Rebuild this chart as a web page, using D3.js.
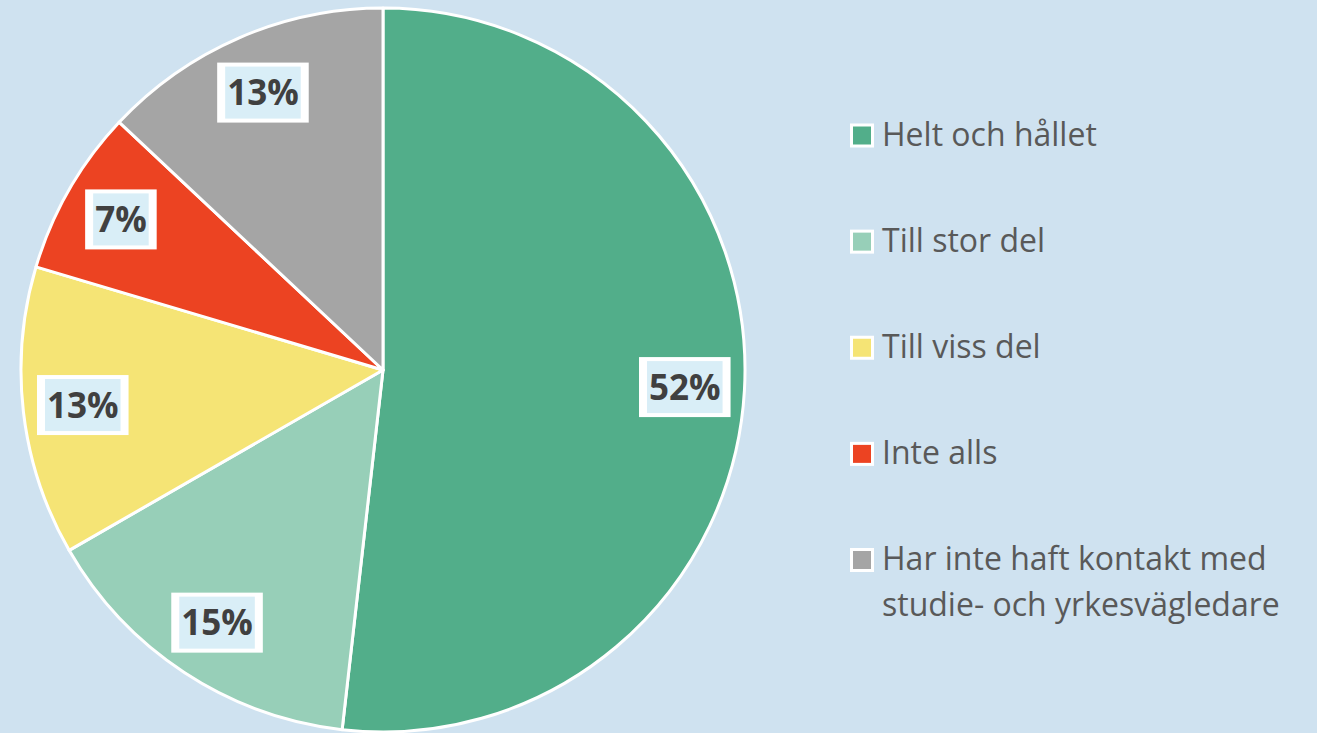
<!DOCTYPE html>
<html>
<head>
<meta charset="utf-8">
<script src="https://cdn.jsdelivr.net/npm/d3@7"></script>
<style>
  body { margin: 0; background: #CFE2F0; }
  svg { display: block; }
</style>
</head>
<body>
<script>
var width = 1317, height = 733;

// data
var categories = ["Helt och hållet", "Till stor del", "Till viss del", "Inte alls",
  "Har inte haft kontakt med studie- och yrkesvägledare"];
var values = [51.8, 14.9, 12.9, 7.4, 13.0];
var labels = ["52%", "15%", "13%", "7%", "13%"];
var legendLines = [["Helt och hållet"], ["Till stor del"], ["Till viss del"], ["Inte alls"],
  ["Har inte haft kontakt med", "studie- och yrkesvägledare"]];
var colors = ["#52AE8A", "#97CFB8", "#F5E475", "#EC4322", "#A5A5A5"];

var svg = d3.select("body").append("svg")
  .attr("width", width)
  .attr("height", height);

svg.append("rect")
  .attr("width", width)
  .attr("height", height)
  .attr("fill", "#CFE2F0");

var cx = 383, cy = 370, radius = 362;

var data = values.map(function(v, i) {
  return {name: categories[i], value: v, label: labels[i], color: colors[i]};
});

var pie = d3.pie()
  .sort(null)
  .value(function(d) { return d.value; });

var arc = d3.arc()
  .innerRadius(0)
  .outerRadius(radius);

var labelArc = d3.arc()
  .innerRadius(radius * 0.835)
  .outerRadius(radius * 0.835);

var g = svg.append("g")
  .attr("transform", "translate(" + cx + "," + cy + ")");

var arcs = pie(data);

g.selectAll("path.slice")
  .data(arcs)
  .enter().append("path")
    .attr("class", "slice")
    .attr("d", arc)
    .attr("fill", function(d) { return d.data.color; })
    .attr("stroke", "#fff")
    .attr("stroke-width", 3)
    .attr("stroke-linejoin", "round");

// data labels in white framed boxes
var lab = g.selectAll("g.label")
  .data(arcs)
  .enter().append("g")
    .attr("class", "label")
    .attr("transform", function(d) {
      var c = labelArc.centroid(d);
      return "translate(" + c[0] + "," + c[1] + ")";
    });

lab.append("text")
  .attr("text-anchor", "middle")
  .attr("dy", "0.36em")
  .attr("font-family", "'Open Sans', sans-serif")
  .attr("font-weight", "bold")
  .attr("font-size", 35)
  .attr("fill", "#404040")
  .text(function(d) { return d.data.label; })
  .each(function() {
    var bb = this.getBBox();
    var p = d3.select(this.parentNode);
    var iw = bb.width + 4, ih = 52;
    p.insert("rect", "text")
      .attr("x", -iw / 2 - 8).attr("y", -ih / 2 - 4)
      .attr("width", iw + 16).attr("height", ih + 8)
      .attr("fill", "#fff");
    p.insert("rect", "text")
      .attr("x", -iw / 2).attr("y", -ih / 2)
      .attr("width", iw).attr("height", ih)
      .attr("fill", "#D9EEF7");
  });

// legend
var legY = d3.scaleLinear().domain([0, 4]).range([135.5, 560]);

var leg = svg.append("g").selectAll("g")
  .data(data)
  .enter().append("g")
    .attr("transform", function(d, i) { return "translate(850," + legY(i) + ")"; });

leg.append("rect")
  .attr("x", 1.5).attr("y", -10.5)
  .attr("width", 21).attr("height", 21)
  .attr("fill", function(d) { return d.color; })
  .attr("stroke", "#fff")
  .attr("stroke-width", 3);

leg.append("text")
  .attr("x", 32)
  .attr("y", 10)
  .attr("font-family", "'Open Sans', sans-serif")
  .attr("font-size", 32)
  .attr("fill", "#595959")
  .selectAll("tspan")
  .data(function(d, i) { return legendLines[i]; })
  .enter().append("tspan")
    .attr("x", 32)
    .attr("dy", function(d, j) { return j === 0 ? 0 : 46; })
    .text(function(d) { return d; });
</script>
</body>
</html>
